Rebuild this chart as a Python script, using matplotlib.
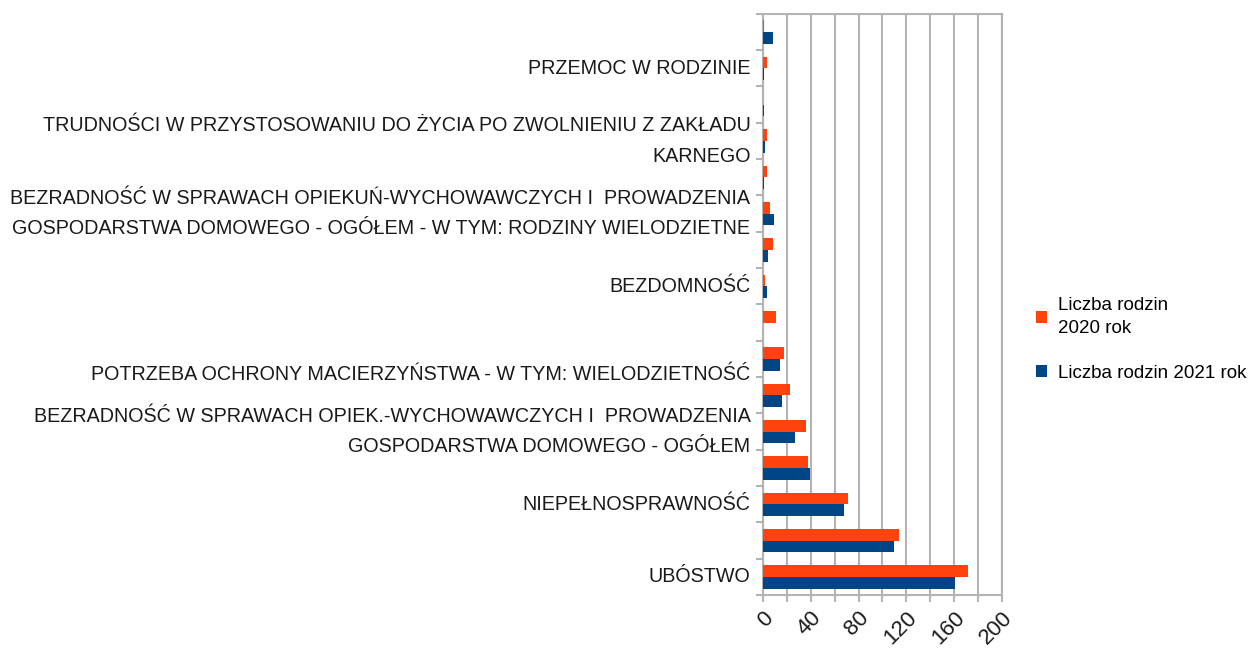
import matplotlib.pyplot as plt
import numpy as np

plt.rcParams['font.family'] = ['Liberation Sans', 'DejaVu Sans']

# categories from bottom to top; empty names were not shown in the source chart
categories = [
    "UBÓSTWO",
    "",
    "NIEPEŁNOSPRAWNOŚĆ",
    "",
    "BEZRADNOŚĆ W SPRAWACH OPIEK.-WYCHOWAWCZYCH I  PROWADZENIA\nGOSPODARSTWA DOMOWEGO - OGÓŁEM",
    "",
    "\nPOTRZEBA OCHRONY MACIERZYŃSTWA - W TYM: WIELODZIETNOŚĆ",
    "",
    "BEZDOMNOŚĆ",
    "",
    "BEZRADNOŚĆ W SPRAWACH OPIEKUŃ-WYCHOWAWCZYCH I  PROWADZENIA\nGOSPODARSTWA DOMOWEGO - OGÓŁEM - W TYM: RODZINY WIELODZIETNE",
    "",
    "TRUDNOŚCI W PRZYSTOSOWANIU DO ŻYCIA PO ZWOLNIENIU Z ZAKŁADU\nKARNEGO",
    "",
    "PRZEMOC W RODZINIE",
    "",
]
rodziny_2020 = [172, 114, 71, 38, 36, 23, 18, 11, 2, 8, 6, 3, 3, 0, 3, 0.5]
rodziny_2021 = [161, 110, 68, 39, 27, 16, 14, 0, 3, 4, 9, 1, 2, 1, 1, 8]
series_names = ["Liczba rodzin\n2020 rok", "Liczba rodzin 2021 rok"]

orange = "#ff420e"
blue = "#004586"
grey = "#b3b3b3"

fig = plt.figure(figsize=(12.57, 6.59), dpi=100)
ax = fig.add_axes([0.607, 0.097, 0.19, 0.882])

y = np.arange(len(categories))
h = 0.32
ax.barh(y + h / 2, rodziny_2020, h, color=orange, label=series_names[0], zorder=3)
ax.barh(y - h / 2, rodziny_2021, h, color=blue, label=series_names[1], zorder=3)

ax.set_xlim(0, 200)
ax.set_ylim(-0.5, len(categories) - 0.5)

ax.set_xticks(np.arange(0, 201, 40))
ax.set_xticks(np.arange(0, 201, 20), minor=True)
ax.set_xticklabels([str(v) for v in range(0, 201, 40)], rotation=45,
                   ha="right", va="top", rotation_mode="anchor", fontsize=16)
ax.grid(True, axis="x", which="both", color=grey, linewidth=1.5, zorder=0)

ax.set_yticks(y)
ax.set_yticklabels(categories, fontsize=14.2, linespacing=1.75, va="center")
ax.set_yticks(np.arange(-0.5, len(categories), 1), minor=True)
ax.tick_params(axis="y", which="major", length=0, pad=9, labelcolor="#1a1a1a")
ax.tick_params(axis="y", which="minor", length=5, color=grey, width=1.5)
ax.tick_params(axis="x", which="both", length=5, color=grey, width=1.5, pad=4,
               labelcolor="#1a1a1a")

for s in ax.spines.values():
    s.set_color(grey)
    s.set_linewidth(1.5)

leg = fig.legend(loc="upper left", bbox_to_anchor=(0.818, 0.56), frameon=False,
                 fontsize=13.5, handlelength=0.6, handleheight=0.6, handletextpad=0.6,
                 labelspacing=1.5, borderaxespad=0)
for t in leg.get_texts():
    t.set_linespacing(1.4)

plt.savefig("out.png", dpi=100)
